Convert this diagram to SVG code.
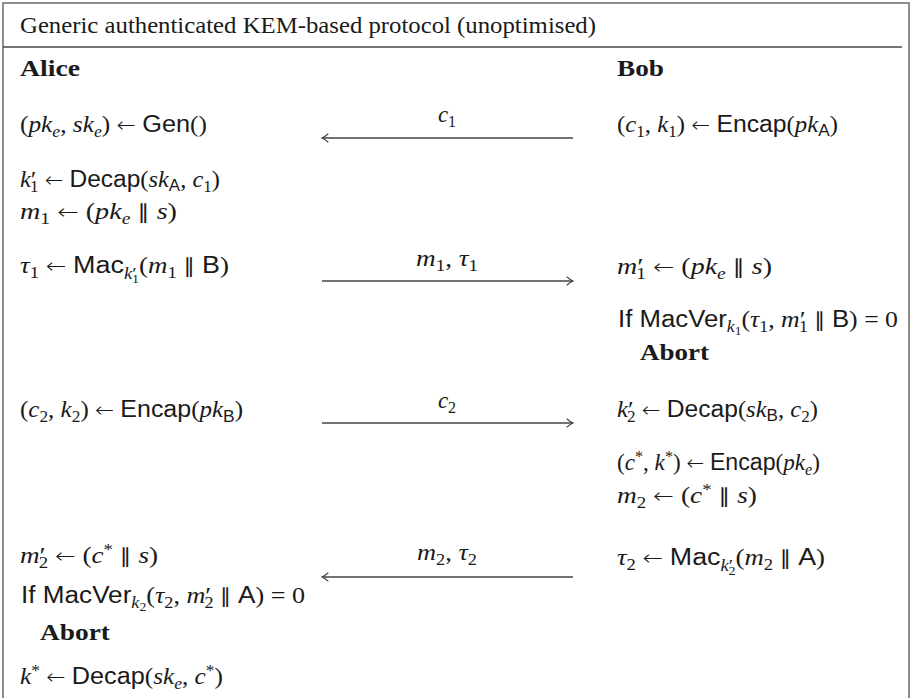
<svg xmlns="http://www.w3.org/2000/svg" width="910" height="698" viewBox="0 0 910 698">
  <style>
    .t { font-family: "Liberation Serif", "DejaVu Serif", serif; font-size: 23px; fill: #1a1a1a; }
    .i { font-style: italic; }
    .s { font-family: "Liberation Sans", "DejaVu Sans", sans-serif; font-style: normal; }
    .b { font-weight: bold; }
    .sub { font-size: 16px; }
    .ss { font-size: 12px; }
    .pr { font-size: 24px; }
    .pr2 { font-size: 17px; }
    .ar { font-family: "DejaVu Sans", sans-serif; font-size: 21px; font-weight: 200; }
    .p { font-family: "DejaVu Sans", sans-serif; font-size: 20px; font-style: normal; }
    .frame { fill: none; stroke: #8c8c8c; stroke-width: 2; }
    .rule { stroke: #4a4a4a; stroke-width: 1.6; }
    .msg { stroke: #444; stroke-width: 1.3; fill: none; marker-end: url(#head); }
  </style>
  <defs>
    <marker id="head" viewBox="-8 -5 10 10" refX="0" refY="0" markerWidth="10" markerHeight="10" markerUnits="userSpaceOnUse" orient="auto">
      <path d="M-6,-4 Q-2.5,-1 0,0 Q-2.5,1 -6,4" fill="none" stroke="#444" stroke-width="1.1" stroke-linecap="round"/>
    </marker>
  </defs>
  <rect width="910" height="698" fill="#ffffff"/>

  <!-- open box: top, left and right edges, with the rule under the heading -->
  <g id="frame">
    <path class="frame" d="M3,698 V3 H909 V698"/>
    <line class="rule" x1="3" y1="47" x2="902" y2="47"/>
    <text class="t" x="20" y="33" textLength="576" lengthAdjust="spacingAndGlyphs">Generic authenticated KEM-based protocol (unoptimised)</text>
  </g>

  <!-- Alice column -->
  <g id="alice">
    <text id="alice-name" class="t b" x="20" y="76" textLength="60" lengthAdjust="spacingAndGlyphs">Alice</text>
    <g id="alice-gen"><text class="t" x="20" y="132" textLength="187" lengthAdjust="spacingAndGlyphs">(<tspan class="i">pk</tspan><tspan class="i sub" dy="5">e</tspan><tspan dy="-5">, </tspan><tspan class="i">sk</tspan><tspan class="i sub" dy="5">e</tspan><tspan dy="-5">) </tspan><tspan class="ar">←</tspan> <tspan class="s">Gen</tspan>()</text></g>
    <g id="alice-decap"><text class="t" x="20" y="187" textLength="200" lengthAdjust="spacingAndGlyphs"><tspan class="i">k</tspan><tspan class="pr">′</tspan><tspan class="sub" dx="-6" dy="5">1</tspan><tspan dy="-5"> </tspan><tspan class="ar">←</tspan> <tspan class="s">Decap</tspan>(<tspan class="i">sk</tspan><tspan class="s sub" dy="4">A</tspan><tspan dy="-4">, </tspan><tspan class="i">c</tspan><tspan class="sub" dy="5">1</tspan><tspan dy="-5">)</tspan></text></g>
    <g id="alice-m1"><text class="t" x="20" y="219" textLength="157" lengthAdjust="spacingAndGlyphs"><tspan class="i">m</tspan><tspan class="sub" dy="5">1</tspan><tspan dy="-5"> </tspan><tspan class="ar">←</tspan> (<tspan class="i">pk</tspan><tspan class="i sub" dy="5">e</tspan><tspan dy="-5"> </tspan><tspan class="p">∥</tspan> <tspan class="i">s</tspan>)</text></g>
    <g id="alice-mac"><text class="t" x="20" y="273" textLength="209" lengthAdjust="spacingAndGlyphs"><tspan class="i">τ</tspan><tspan class="sub" dy="5">1</tspan><tspan dy="-5"> </tspan><tspan class="ar">←</tspan> <tspan class="s">Mac</tspan><tspan class="i sub" dy="6">k</tspan><tspan class="pr2">′</tspan><tspan class="ss" dx="-4" dy="4">1</tspan><tspan dy="-10">(</tspan><tspan class="i">m</tspan><tspan class="sub" dy="5">1</tspan><tspan dy="-5"> </tspan><tspan class="p">∥</tspan> <tspan class="s">B</tspan>)</text></g>
    <g id="alice-encap"><text class="t" x="20" y="417" textLength="223" lengthAdjust="spacingAndGlyphs">(<tspan class="i">c</tspan><tspan class="sub" dy="5">2</tspan><tspan dy="-5">, </tspan><tspan class="i">k</tspan><tspan class="sub" dy="5">2</tspan><tspan dy="-5">) </tspan><tspan class="ar">←</tspan> <tspan class="s">Encap</tspan>(<tspan class="i">pk</tspan><tspan class="s sub" dy="5">B</tspan><tspan dy="-5">)</tspan></text></g>
    <g id="alice-m2"><text class="t" x="20" y="563" textLength="138" lengthAdjust="spacingAndGlyphs"><tspan class="i">m</tspan><tspan class="pr">′</tspan><tspan class="sub" dx="-6" dy="5">2</tspan><tspan dy="-5"> </tspan><tspan class="ar">←</tspan> (<tspan class="i">c</tspan><tspan class="sub" dy="-8">*</tspan><tspan dy="8"> </tspan><tspan class="p">∥</tspan> <tspan class="i">s</tspan>)</text></g>
    <g id="alice-verify"><text class="t" x="21" y="603" textLength="284" lengthAdjust="spacingAndGlyphs"><tspan class="s">If MacVer</tspan><tspan class="i sub" dy="5">k</tspan><tspan class="ss" dy="3">2</tspan><tspan dy="-8">(</tspan><tspan class="i">τ</tspan><tspan class="sub" dy="5">2</tspan><tspan dy="-5">, </tspan><tspan class="i">m</tspan><tspan class="pr">′</tspan><tspan class="sub" dx="-6" dy="5">2</tspan><tspan dy="-5"> </tspan><tspan class="p">∥</tspan> <tspan class="s">A</tspan>) = 0</text></g>
    <g id="alice-abort"><text class="t b" x="40" y="640" textLength="70" lengthAdjust="spacingAndGlyphs">Abort</text></g>
    <g id="alice-key"><text class="t" x="20" y="684" textLength="203" lengthAdjust="spacingAndGlyphs"><tspan class="i">k</tspan><tspan class="sub" dy="-8">*</tspan><tspan dy="8"> </tspan><tspan class="ar">←</tspan> <tspan class="s">Decap</tspan>(<tspan class="i">sk</tspan><tspan class="i sub" dy="5">e</tspan><tspan dy="-5">, </tspan><tspan class="i">c</tspan><tspan class="sub" dy="-8">*</tspan><tspan dy="8">)</tspan></text></g>
  </g>

  <!-- Bob column -->
  <g id="bob">
    <text id="bob-name" class="t b" x="617" y="76" textLength="47" lengthAdjust="spacingAndGlyphs">Bob</text>
    <g id="bob-encap1"><text class="t" x="617" y="132" textLength="221" lengthAdjust="spacingAndGlyphs">(<tspan class="i">c</tspan><tspan class="sub" dy="5">1</tspan><tspan dy="-5">, </tspan><tspan class="i">k</tspan><tspan class="sub" dy="5">1</tspan><tspan dy="-5">) </tspan><tspan class="ar">←</tspan> <tspan class="s">Encap</tspan>(<tspan class="i">pk</tspan><tspan class="s sub" dy="4">A</tspan><tspan dy="-4">)</tspan></text></g>
    <g id="bob-m1"><text class="t" x="617" y="274" textLength="155" lengthAdjust="spacingAndGlyphs"><tspan class="i">m</tspan><tspan class="pr">′</tspan><tspan class="sub" dx="-6" dy="5">1</tspan><tspan dy="-5"> </tspan><tspan class="ar">←</tspan> (<tspan class="i">pk</tspan><tspan class="i sub" dy="5">e</tspan><tspan dy="-5"> </tspan><tspan class="p">∥</tspan> <tspan class="i">s</tspan>)</text></g>
    <g id="bob-verify"><text class="t" x="618" y="327" textLength="280" lengthAdjust="spacingAndGlyphs"><tspan class="s">If MacVer</tspan><tspan class="i sub" dy="5">k</tspan><tspan class="ss" dy="3">1</tspan><tspan dy="-8">(</tspan><tspan class="i">τ</tspan><tspan class="sub" dy="5">1</tspan><tspan dy="-5">, </tspan><tspan class="i">m</tspan><tspan class="pr">′</tspan><tspan class="sub" dx="-6" dy="5">1</tspan><tspan dy="-5"> </tspan><tspan class="p">∥</tspan> <tspan class="s">B</tspan>) = 0</text></g>
    <g id="bob-abort"><text class="t b" x="640" y="360" textLength="69" lengthAdjust="spacingAndGlyphs">Abort</text></g>
    <g id="bob-decap"><text class="t" x="617" y="417" textLength="201" lengthAdjust="spacingAndGlyphs"><tspan class="i">k</tspan><tspan class="pr">′</tspan><tspan class="sub" dx="-6" dy="5">2</tspan><tspan dy="-5"> </tspan><tspan class="ar">←</tspan> <tspan class="s">Decap</tspan>(<tspan class="i">sk</tspan><tspan class="s sub" dy="4">B</tspan><tspan dy="-4">, </tspan><tspan class="i">c</tspan><tspan class="sub" dy="5">2</tspan><tspan dy="-5">)</tspan></text></g>
    <g id="bob-encap2"><text class="t" x="617" y="470" textLength="203" lengthAdjust="spacingAndGlyphs">(<tspan class="i">c</tspan><tspan class="sub" dy="-8">*</tspan><tspan dy="8">, </tspan><tspan class="i">k</tspan><tspan class="sub" dy="-8">*</tspan><tspan dy="8">) </tspan><tspan class="ar">←</tspan> <tspan class="s">Encap</tspan>(<tspan class="i">pk</tspan><tspan class="i sub" dy="5">e</tspan><tspan dy="-5">)</tspan></text></g>
    <g id="bob-m2"><text class="t" x="617" y="503" textLength="140" lengthAdjust="spacingAndGlyphs"><tspan class="i">m</tspan><tspan class="sub" dy="5">2</tspan><tspan dy="-5"> </tspan><tspan class="ar">←</tspan> (<tspan class="i">c</tspan><tspan class="sub" dy="-8">*</tspan><tspan dy="8"> </tspan><tspan class="p">∥</tspan> <tspan class="i">s</tspan>)</text></g>
    <g id="bob-mac"><text class="t" x="617" y="565" textLength="208" lengthAdjust="spacingAndGlyphs"><tspan class="i">τ</tspan><tspan class="sub" dy="5">2</tspan><tspan dy="-5"> </tspan><tspan class="ar">←</tspan> <tspan class="s">Mac</tspan><tspan class="i sub" dy="6">k</tspan><tspan class="pr2">′</tspan><tspan class="ss" dx="-4" dy="4">2</tspan><tspan dy="-10">(</tspan><tspan class="i">m</tspan><tspan class="sub" dy="5">2</tspan><tspan dy="-5"> </tspan><tspan class="p">∥</tspan> <tspan class="s">A</tspan>)</text></g>
  </g>

  <!-- messages exchanged between the two parties -->
  <g id="connectors">
    <line class="msg" x1="573" y1="138" x2="322" y2="138"/>
    <text class="t" x="447" y="122" text-anchor="middle"><tspan class="i">c</tspan><tspan class="sub" dy="5">1</tspan></text>
    <line class="msg" x1="322" y1="281" x2="573" y2="281"/>
    <text class="t" x="447" y="266" text-anchor="middle" textLength="62" lengthAdjust="spacingAndGlyphs"><tspan class="i">m</tspan><tspan class="sub" dy="5">1</tspan><tspan dy="-5">, </tspan><tspan class="i">τ</tspan><tspan class="sub" dy="5">1</tspan></text>
    <line class="msg" x1="322" y1="423" x2="573" y2="423"/>
    <text class="t" x="447" y="408" text-anchor="middle"><tspan class="i">c</tspan><tspan class="sub" dy="5">2</tspan></text>
    <line class="msg" x1="573" y1="577" x2="322" y2="577"/>
    <text class="t" x="447" y="560" text-anchor="middle" textLength="60" lengthAdjust="spacingAndGlyphs"><tspan class="i">m</tspan><tspan class="sub" dy="5">2</tspan><tspan dy="-5">, </tspan><tspan class="i">τ</tspan><tspan class="sub" dy="5">2</tspan></text>
  </g>
</svg>
